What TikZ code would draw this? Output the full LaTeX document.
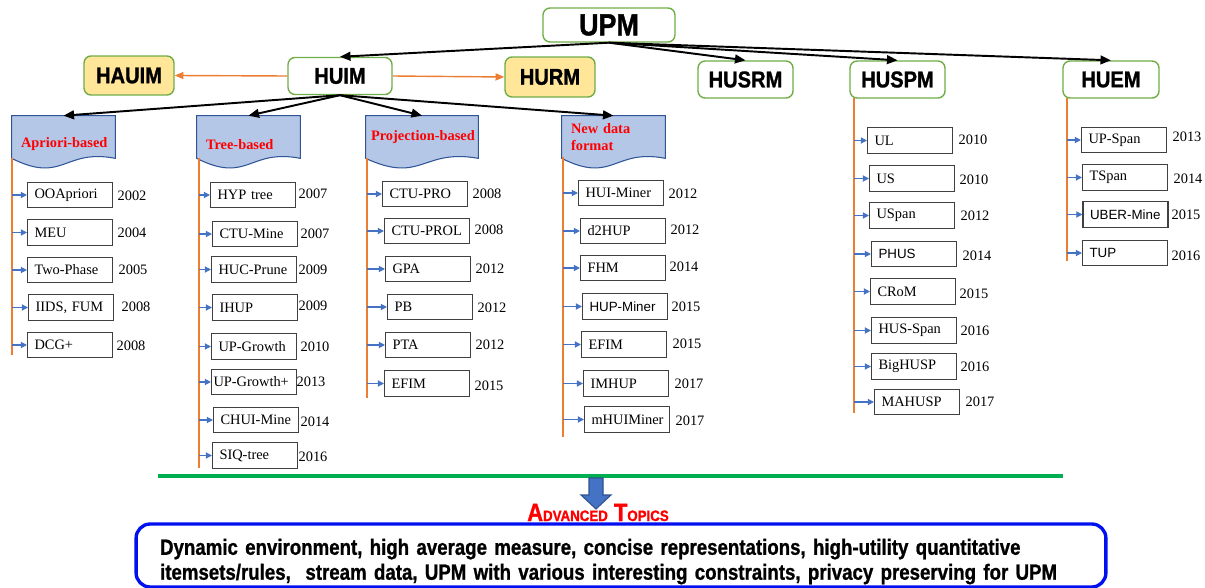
\documentclass[tikz,border=0pt]{standalone}
\usepackage{fontspec}
\setmainfont{Liberation Serif}
\newfontfamily\headfont[FakeStretch=0.88,FakeBold=1.2]{Liberation Sans Bold}
\newfontfamily\notefont[FakeStretch=0.85,FakeBold=1]{Liberation Sans Bold}
\newfontfamily\itemsans{Liberation Sans}
\usetikzlibrary{calc,arrows.meta,backgrounds}

\definecolor{hgreen}{HTML}{70AD47}
\definecolor{hyellow}{HTML}{FFE699}
\definecolor{bannerfill}{HTML}{B4C7E7}
\definecolor{bannerline}{HTML}{2F5597}
\definecolor{itemgray}{HTML}{404040}
\definecolor{spineorange}{HTML}{ED7D31}
\definecolor{feedblue}{HTML}{4472C4}
\definecolor{arrowline}{HTML}{2F528F}
\definecolor{barblue}{HTML}{0010F0}
\definecolor{bargreen}{HTML}{00B050}

\tikzset{
  topic/.style={draw=hgreen, line width=0.8pt, rounded corners=4pt, inner sep=0pt,
    minimum height=0.74cm, font=\headfont\fontsize{13}{15}\selectfont},
  sidetopic/.style={topic, fill=hyellow},
  banner/.style={text=red, font=\bfseries\fontsize{8.2}{9.6}\selectfont, minimum height=0.84cm,
    inner xsep=0.18cm, inner ysep=1pt, align=left, text width=1.7cm},
  bannershape/.style={fill=bannerfill, draw=bannerline, line width=0.6pt},
  itembox/.style={draw=itemgray, line width=0.6pt, text width=1.42cm, inner xsep=0.14cm,
    inner ysep=0pt, minimum height=0.51cm, align=left, font=\fontsize{8.2}{9.5}\selectfont},
  sansitem/.style={itembox, font=\itemsans\fontsize{7.6}{9}\selectfont},
  yearlbl/.style={inner sep=0pt, font=\fontsize{8.2}{9.5}\selectfont},
  spine/.style={draw=spineorange, line width=1.3pt},
  feed/.style={draw=feedblue, line width=0.7pt, -{Triangle[length=3.5pt,width=3.5pt]}},
  branch/.style={draw=black, line width=1.1pt, -{Triangle[length=6pt,width=5pt]}},
  sidearr/.style={draw=spineorange, line width=0.8pt, -{Triangle[length=5pt,width=4pt]}},
}

\begin{document}
\begin{tikzpicture}[x=0.02cm,y=-0.02cm]
\useasboundingbox (0,0) rectangle (1205,588);

% top level
\node[topic, minimum width=2.64cm, minimum height=0.68cm, font=\headfont\fontsize{17.4}{19}\selectfont] (upm) at (609,25) {UPM};
\node[topic, minimum width=2.08cm] (huim) at (340,76) {HUIM};
\node[sidetopic, minimum width=1.8cm, minimum height=0.78cm] (hauim) at (129,75.5) {HAUIM};
\node[sidetopic, minimum width=1.8cm, minimum height=0.8cm] (hurm) at (550,77) {HURM};
\node[topic, minimum width=1.9cm] (husrm) at (745.5,79.5) {HUSRM};
\node[topic, minimum width=1.9cm] (huspm) at (897.5,79.5) {HUSPM};
\node[topic, minimum width=1.92cm] (huem) at (1111,79.5) {HUEM};

\draw[branch] (upm.south) -- (huim.north);
\draw[branch] (upm.south) -- (husrm.north);
\draw[branch] (upm.south) -- (huspm.north);
\draw[branch] (upm.south) -- (huem.north);
\draw[sidearr] (huim.west) -- (hauim.east);
\draw[sidearr] (huim.east) -- (hurm.west);

% HUIM categories
\node[banner, minimum width=2.06cm, text height=14pt] (apri) at (63.5,137) {\mbox{Apriori-based}};
\node[banner, minimum width=2.06cm, text height=14pt] (tree) at (248.5,137) {\mbox{Tree-based}};
\node[banner, minimum width=2.24cm, inner xsep=0.1cm, text width=2.04cm] (proj) at (422,137) {\mbox{Projection-based}};
\node[banner, minimum width=2.06cm] (newf) at (613.5,137) {New data\\format};

\begin{pgfonlayer}{background}
\foreach \b in {apri,tree,proj,newf}
  \draw[bannershape] (\b.south west) -- (\b.north west) -- (\b.north east) -- (\b.south east)
    .. controls ($(\b.south)+(0,-10)$) and ($(\b.south)+(0,26)$) .. (\b.south west) -- cycle;
\end{pgfonlayer}

\draw[branch] (huim.south) -- (apri.north);
\draw[branch] (huim.south) -- (tree.north);
\draw[branch] (huim.south) -- (proj.north);
\draw[branch] (huim.south) -- (newf.north);

% Apriori-based
\coordinate (atop) at (12,158);
\coordinate (abot) at (12,355);
\draw[spine] (atop) -- (abot);
\node[itembox] (a1) at (70,195) {OOApriori};
\node[itembox] (a2) at (70,232.5) {MEU};
\node[itembox] (a3) at (70,270) {Two-Phase};
\node[itembox] (a4) at (71,307.5) {IIDS, FUM};
\node[itembox] (a5) at (70,345) {DCG+};
\node[yearlbl] (a1y) at (132,196) {2002};
\node[yearlbl] (a2y) at (132,233) {2004};
\node[yearlbl] (a3y) at (133,270) {2005};
\node[yearlbl] (a4y) at (136,307) {2008};
\node[yearlbl] (a5y) at (131,346) {2008};
\foreach \i in {a1,a2,a3,a4,a5}
  \draw[feed] (atop |- \i.west) -- (\i.west);

% Tree-based
\coordinate (ttop) at (199,158);
\coordinate (tbot) at (199,468);
\draw[spine] (ttop) -- (tbot);
\node[itembox] (t1) at (253,195) {HYP tree};
\node[itembox] (t2) at (255,234) {CTU-Mine};
\node[itembox] (t3) at (254,269.5) {HUC-Prune};
\node[itembox] (t4) at (255,307.5) {IHUP};
\node[itembox] (t5) at (254,346.5) {UP-Growth};
\node[itembox, inner xsep=0.04cm, text width=1.62cm] (t6) at (254,382) {UP-Growth+};
\node[itembox] (t7) at (256,420) {CHUI-Mine};
\node[itembox] (t8) at (255,455.5) {SIQ-tree};
\node[yearlbl] (t1y) at (313,194) {2007};
\node[yearlbl] (t2y) at (315,234) {2007};
\node[yearlbl] (t3y) at (313,270) {2009};
\node[yearlbl] (t4y) at (313,306) {2009};
\node[yearlbl] (t5y) at (315,347) {2010};
\node[yearlbl] (t6y) at (311,382) {2013};
\node[yearlbl] (t7y) at (315,422) {2014};
\node[yearlbl] (t8y) at (313,457) {2016};
\foreach \i in {t1,t2,t3,t4,t5,t6,t7,t8}
  \draw[feed] (ttop |- \i.west) -- (\i.west);

% Projection-based
\coordinate (ptop) at (367,158);
\coordinate (pbot) at (367,398);
\draw[spine] (ptop) -- (pbot);
\node[itembox] (p1) at (425,194) {CTU-PRO};
\node[itembox] (p2) at (427,231) {CTU-PROL};
\node[itembox] (p3) at (428,269) {GPA};
\node[itembox] (p4) at (430,307) {PB};
\node[itembox] (p5) at (428,345) {PTA};
\node[itembox] (p6) at (427,383.5) {EFIM};
\node[yearlbl] (p1y) at (487,194) {2008};
\node[yearlbl] (p2y) at (489,230) {2008};
\node[yearlbl] (p3y) at (490,269) {2012};
\node[yearlbl] (p4y) at (492,308) {2012};
\node[yearlbl] (p5y) at (490,345) {2012};
\node[yearlbl] (p6y) at (489,386) {2015};
\foreach \i in {p1,p2,p3,p4,p5,p6}
  \draw[feed] (ptop |- \i.west) -- (\i.west);

% New data format
\coordinate (ntop) at (563,157);
\coordinate (nbot) at (563,437);
\draw[spine] (ntop) -- (nbot);
\node[itembox] (n1) at (621,193) {HUI-Miner};
\node[itembox] (n2) at (623,231) {d2HUP};
\node[itembox] (n3) at (623,268) {FHM};
\node[sansitem] (n4) at (625,306.5) {HUP-Miner};
\node[itembox] (n5) at (624,344.5) {EFIM};
\node[itembox] (n6) at (626,383.5) {IMHUP};
\node[itembox] (n7) at (627,419.5) {mHUIMiner};
\node[yearlbl] (n1y) at (683,194) {2012};
\node[yearlbl] (n2y) at (685,230) {2012};
\node[yearlbl] (n3y) at (684,267) {2014};
\node[yearlbl] (n4y) at (686,307) {2015};
\node[yearlbl] (n5y) at (687,344) {2015};
\node[yearlbl] (n6y) at (689,384) {2017};
\node[yearlbl] (n7y) at (690,421) {2017};
\foreach \i in {n1,n2,n3,n4,n5,n6,n7}
  \draw[feed] (ntop |- \i.west) -- (\i.west);

% HUSPM
\coordinate (stop) at (854,98);
\coordinate (sbot) at (854,413);
\draw[spine] (stop) -- (sbot);
\node[itembox] (s1) at (910,140.5) {UL};
\node[itembox] (s2) at (912,178.5) {US};
\node[itembox] (s3) at (912,215.5) {USpan};
\node[sansitem] (s4) at (914,254) {PHUS};
\node[itembox] (s5) at (913,291.5) {CRoM};
\node[itembox] (s6) at (914,330.5) {HUS-Span};
\node[itembox] (s7) at (914,366.5) {BigHUSP};
\node[itembox] (s8) at (917,402) {MAHUSP};
\node[yearlbl] (s1y) at (973,140) {2010};
\node[yearlbl] (s2y) at (974,180) {2010};
\node[yearlbl] (s3y) at (975,216) {2012};
\node[yearlbl] (s4y) at (977,256) {2014};
\node[yearlbl] (s5y) at (974,294) {2015};
\node[yearlbl] (s6y) at (975,331) {2016};
\node[yearlbl] (s7y) at (975,367) {2016};
\node[yearlbl] (s8y) at (980,402) {2017};
\foreach \i in {s1,s2,s3,s4,s5,s6,s7,s8}
  \draw[feed] (stop |- \i.west) -- (\i.west);

% HUEM
\coordinate (etop) at (1067,98);
\coordinate (ebot) at (1067,261);
\draw[spine] (etop) -- (ebot);
\node[itembox] (e1) at (1124,140) {UP-Span};
\node[itembox] (e2) at (1125,177.5) {TSpan};
\node[sansitem] (e3) at (1125.5,214.5) {UBER-Mine};
\node[sansitem] (e4) at (1125,253) {TUP};
\node[yearlbl] (e1y) at (1187,137) {2013};
\node[yearlbl] (e2y) at (1188,179) {2014};
\node[yearlbl] (e3y) at (1186,215) {2015};
\node[yearlbl] (e4y) at (1186,256) {2016};
\foreach \i in {e1,e2,e3,e4}
  \draw[feed] (etop |- \i.west) -- (\i.west);

% advanced topics
\draw[draw=bargreen, line width=2.8pt] (158,476) -- (1063,476);
\draw[fill=feedblue, draw=arrowline, line width=0.6pt] (589,478) -- (603,478) -- (603,495) -- (611,495)
  -- (596,509) -- (581,495) -- (589,495) -- cycle;
\node[anchor=base, inner sep=0pt, text=red, font=\headfont\fontsize{14.2}{16}\selectfont] (adv) at (598,521)
  {A{\fontsize{8.6}{10}\selectfont DVANCED} T{\fontsize{8.6}{10}\selectfont OPICS}};
\node[draw=barblue, line width=1.9pt, rounded corners=8pt, minimum width=19.4cm, minimum height=1.26cm,
  text width=18.44cm, inner xsep=0.48cm, inner ysep=0pt, text height=16pt, align=left,
  font=\notefont\fontsize{12.5}{14.2}\selectfont] (note) at (621,555.5)
  {Dynamic environment, high average measure, concise representations, high-utility quantitative\\
   itemsets/rules,\ \ stream data, UPM with various interesting constraints, privacy preserving for UPM};
\end{tikzpicture}
\end{document}
